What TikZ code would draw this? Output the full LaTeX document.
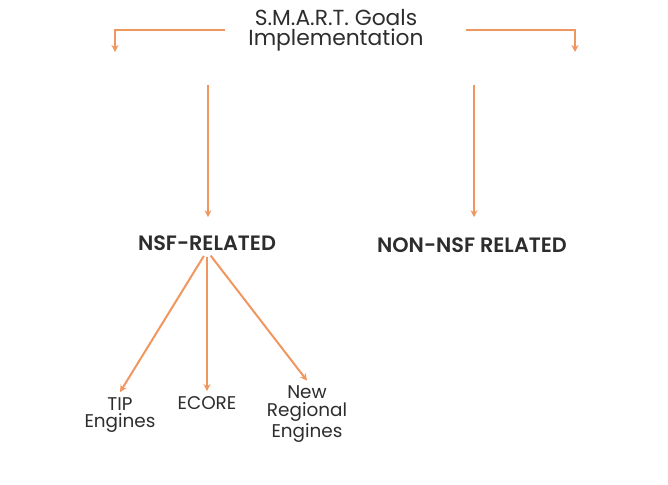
\documentclass[tikz,border=0pt]{standalone}
\usepackage{fontspec}
\setmainfont{Poppins}
\newfontfamily\groupfont{Poppins SemiBold}
\usepackage{xcolor}
\usepackage{tikz}
\usetikzlibrary{arrows.meta}
\definecolor{smartorange}{RGB}{240,150,95}
\definecolor{smartink}{RGB}{45,45,45}

\begin{document}
\begin{tikzpicture}[x=0.5pt, y=-0.5pt,
    link/.style={draw=smartorange, line width=1pt, -{Stealth[length=3.5pt, width=3.5pt]}},
    head/.style={font=\fontsize{10.9}{9.8}\selectfont, text=smartink, align=center, inner sep=0pt},
    group/.style={font=\fontsize{10.4}{10}\groupfont, text=smartink, inner sep=0pt},
    leaf/.style={font=\fontsize{9.2}{8.6}\selectfont, text=smartink, align=center, inner sep=2.5pt}]
    \useasboundingbox (0,0) rectangle (668,484);
    \node[head] (title) at (336,30) {S.M.A.R.T. Goals\\Implementation};
    \node[group] (nsf) at (207,243) {NSF-RELATED};
    \node[group] (nonnsf) at (472,245) {NON-NSF RELATED};
    \node[leaf] (tip) at (120,415) {TIP\\Engines};
    \node[leaf] (ecore) at (207,403) {ECORE};
    \node[leaf] (regional) at (307,414) {New\\Regional\\Engines};
    \coordinate (lgoal) at (115,52);
    \coordinate (rgoal) at (575,52);
    \coordinate (lsplit) at (208,85);
    \coordinate (rsplit) at (474,85);
    \draw[link] ([xshift=-11.5pt]title.west) -| (lgoal);
    \draw[link] ([xshift=21pt]title.east) -| (rgoal);
    \draw[link, shorten >=9pt] (lsplit) -- (lsplit |- nsf.north);
    \draw[link, shorten >=10pt] (rsplit) -- (rsplit |- nonnsf.north);
    \draw[link, shorten <=3pt] (nsf.south) -- (tip.north);
    \draw[link, shorten <=3pt] (nsf.south) -- (ecore.north);
    \draw[link, shorten <=3pt] (nsf.south) -- (regional.north);
\end{tikzpicture}
\end{document}
